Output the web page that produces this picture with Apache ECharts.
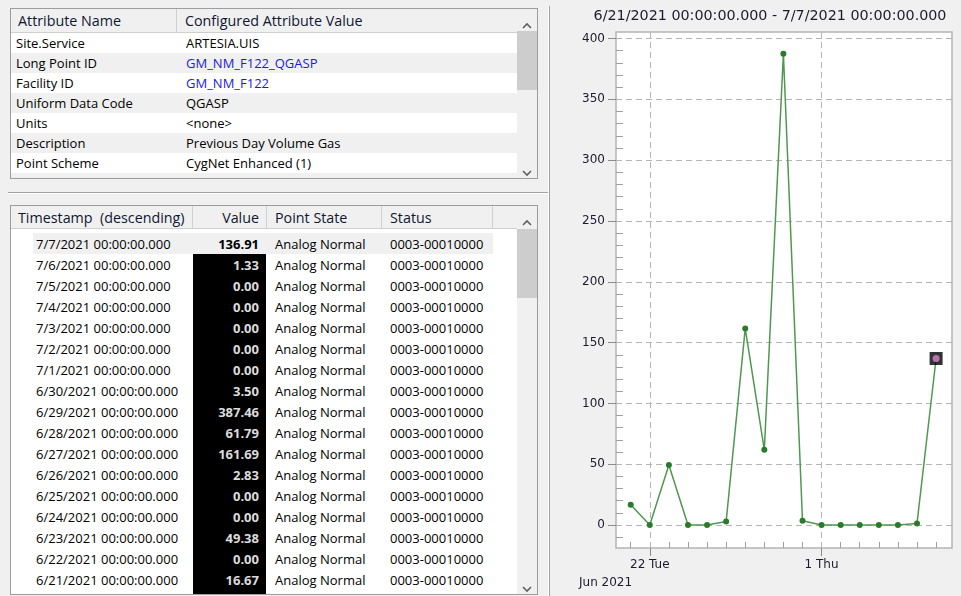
<!DOCTYPE html>
<html>
<head>
<meta charset="utf-8">
<script src="https://cdn.jsdelivr.net/npm/echarts/dist/echarts.min.js"></script>
<style>
html,body{margin:0;padding:0;width:961px;height:596px;overflow:hidden;background:#f0f0f0;
  font-family:"Open Sans","Noto Sans",sans-serif;font-size:13px;color:#000;}
.a{position:absolute;box-sizing:border-box;}
.t{position:absolute;white-space:pre;line-height:16px;}
.h{font-size:14.3px;color:#0f1733;}
.frame{border:1px solid #9d9d9d;background:#fff;}
.hdr{background:#f0f0f0;border-bottom:1px solid #cfcfcf;}
.div{background:#d0d0d0;width:1px;}
.sb{background:#f0f0f0;}
.thumb{background:#cdcdcd;}
#chart{position:absolute;left:550px;top:0;width:411px;height:596px;}
</style>
</head>
<body>
<div id="ui"></div>
<div id="chart"></div>
<script>
// ---------- data ----------
const attrNames = ['Site.Service','Long Point ID','Facility ID','Uniform Data Code','Units','Description','Point Scheme'];
const attrValues = ['ARTESIA.UIS','GM_NM_F122_QGASP','GM_NM_F122','QGASP','<none>','Previous Day Volume Gas','CygNet Enhanced (1)'];
const attrLinks = [false,true,true,false,false,false,false];

const dates = ['2021-06-21','2021-06-22','2021-06-23','2021-06-24','2021-06-25','2021-06-26','2021-06-27','2021-06-28','2021-06-29','2021-06-30','2021-07-01','2021-07-02','2021-07-03','2021-07-04','2021-07-05','2021-07-06','2021-07-07'];
const values = [16.67,0.00,49.38,0.00,0.00,2.83,161.69,61.79,387.46,3.50,0.00,0.00,0.00,0.00,0.00,1.33,136.91];
const pointState = 'Analog Normal';
const statusCode = '0003-00010000';
const tableHeaders = ['Timestamp  (descending)','Value','Point State','Status'];

const chartTitle = '6/21/2021 00:00:00.000 - 7/7/2021 00:00:00.000';
const xRange = ['2021-06-20T05:30','2021-07-07T20:00'];
const xTickDates = ['2021-06-22','2021-07-01'];
const xTickLabels = ['22 Tue','1 Thu'];
const xSubLabel = 'Jun 2021';
const yRange = [-18.9, 405.4];
const yTickValues = [0,50,100,150,200,250,300,350,400];
const yMinorTickValues = [-10,10,20,30,40,60,70,80,90,110,120,130,140,160,170,180,190,210,220,230,240,260,270,280,290,310,320,330,340,360,370,380,390];
const selectedIndex = dates.length - 1;

// ---------- helpers ----------
function toUTC(s){
  const [d,tm] = s.split('T');
  const [y,m,dd] = d.split('-').map(Number);
  let h=0,mi=0;
  if(tm){ [h,mi] = tm.split(':').map(Number); }
  return Date.UTC(y,m-1,dd,h,mi);
}
function fmtStamp(s){
  const [y,m,d] = s.split('-').map(Number);
  return m+'/'+d+'/'+y+' 00:00:00.000';
}
const ui = document.getElementById('ui');
function box(cls,l,t,w,h,extra){
  const e=document.createElement('div'); e.className='a '+(cls||'');
  e.style.left=l+'px'; e.style.top=t+'px'; e.style.width=w+'px'; e.style.height=h+'px';
  if(extra) Object.assign(e.style,extra);
  ui.appendChild(e); return e;
}
function text(str,l,cy,opts){
  opts=opts||{};
  const e=document.createElement('div'); e.className='t'+(opts.cls?' '+opts.cls:''); e.textContent=str;
  e.style.top=(cy-8)+'px';
  if(opts.right!==undefined){ e.style.right=(961-opts.right)+'px'; } else { e.style.left=l+'px'; }
  if(opts.color) e.style.color=opts.color;
  if(opts.bold) e.style.fontWeight='bold';
  ui.appendChild(e); return e;
}
function arrow(cx,cy,up){
  const e=document.createElement('div'); e.className='a';
  e.style.left=(cx-5)+'px'; e.style.top=(cy-4)+'px'; e.style.width='10px'; e.style.height='8px';
  e.innerHTML='<svg width="10" height="8"><polyline points="'+(up?'1,6 5,2 9,6':'1,2 5,6 9,2')+'" fill="none" stroke="#606060" stroke-width="1.6"/></svg>';
  ui.appendChild(e);
}

// ---------- top attribute table ----------
box('frame',10,8,528,171);
box('hdr',11,9,506,24);
box('div',176,9,1,24);
text('Attribute Name',18,21,{cls:'h'});
text('Configured Attribute Value',185,21,{cls:'h'});
for(let i=0;i<8;i++){
  const top=33+20*i;
  const h=Math.min(20,178-top);
  box('',11,top,506,h,{background: i%2? '#f0f0f0':'#ffffff'});
  if(i<attrNames.length){
    text(attrNames[i],16,top+10);
    text(attrValues[i],186,top+10,{color: attrLinks[i]?'#1a1ae6':'#000'});
  }
}
box('sb',517,9,20,169);
box('thumb',517,31,20,59);
arrow(527,20,true);
arrow(527,167,false);

// splitters
box('',8,192,541,1,{background:'#a0a0a0'});
box('',8,193,541,1,{background:'#ffffff'});
box('',549,6,1,590,{background:'#a0a0a0'});
box('',548,6,1,590,{background:'#ffffff'});

// ---------- bottom history table ----------
box('frame',10,205,528,390);
box('hdr',11,206,506,23);
[192,266,381,492].forEach(x=>box('div',x,206,1,23));
text(tableHeaders[0],18,218,{cls:'h'});
text(tableHeaders[1],0,218,{right:259,cls:'h'});
text(tableHeaders[2],275,218,{cls:'h'});
text(tableHeaders[3],390,218,{cls:'h'});
const rowH=21, row0=233;
box('',193,row0+rowH,73,594-(row0+rowH),{background:'#000'});
box('',33,row0,460,rowH,{background:'#f0f0f0'});
const n=dates.length;
for(let k=0;k<n;k++){
  const i=n-1-k;
  const cy=row0+rowH*k+10.5;
  text(fmtStamp(dates[i]),36,cy);
  text(values[i].toFixed(2),0,cy,{right:259,bold:true,color: k===0?'#000':'#dcdcdc'});
  text(pointState,275,cy);
  text(statusCode,390,cy);
}
box('sb',517,206,20,388);
box('thumb',517,229,20,69);
arrow(527,217,true);
arrow(527,583,false);

// ---------- chart ----------
const chart = echarts.init(document.getElementById('chart'), null, {renderer:'canvas'});
const xMajor = xTickDates.map(toUTC);
const xMinor = dates.map(toUTC).filter(v=>xMajor.indexOf(v)<0);
const seriesData = dates.map((d,i)=>[toUTC(d), values[i]]);
const sel = [[toUTC(dates[selectedIndex]), values[selectedIndex]]];
const FONT = 'DejaVu Sans';
const option = {
  animation:false,
  backgroundColor:'transparent',
  textStyle:{fontFamily:FONT},
  grid:{left:66, top:32, width:336, height:516, show:true, backgroundColor:'#ffffff', borderColor:'#b4b4b4', borderWidth:1.5},
  graphic:[
    {type:'text', x:220, y:16, style:{text:chartTitle, font:'14.3px "DejaVu Sans"', fill:'#1b1b2e', textAlign:'center', textVerticalAlign:'middle'}},
    {type:'text', x:29, y:583, style:{text:xSubLabel, font:'12px "DejaVu Sans"', fill:'#1b1b2e', textAlign:'left', textVerticalAlign:'middle'}}
  ],
  xAxis:[{
    type:'value', position:'bottom', min:toUTC(xRange[0]), max:toUTC(xRange[1]),
    axisLine:{show:false, onZero:false},
    axisTick:{show:true, customValues:xMajor, length:8, lineStyle:{color:'#8c8c8c'}},
    axisLabel:{show:true, customValues:xMajor, margin:11, color:'#1b1b2e', fontSize:12, fontFamily:FONT,
      formatter:(v)=>xTickLabels[xMajor.indexOf(v)]},
    splitLine:{show:true, lineStyle:{type:[6,4], color:'#b4b4b4', width:1}}
  },{
    type:'value', position:'bottom', min:toUTC(xRange[0]), max:toUTC(xRange[1]),
    axisLine:{show:false, onZero:false},
    axisTick:{show:true, inside:true, customValues:xMinor, length:6, lineStyle:{color:'#a0a0a0'}},
    axisLabel:{show:false}, splitLine:{show:false}
  }],
  yAxis:[{
    type:'value', position:'left', min:yRange[0], max:yRange[1],
    axisLine:{show:false, onZero:false},
    axisTick:{show:true, customValues:yTickValues, length:8, lineStyle:{color:'#8c8c8c'}},
    axisLabel:{show:true, customValues:yTickValues, margin:11, color:'#1b1b2e', fontSize:12, fontFamily:FONT},
    splitLine:{show:true, lineStyle:{type:[6,4], color:'#b4b4b4', width:1}}
  },{
    type:'value', position:'left', min:yRange[0], max:yRange[1],
    axisLine:{show:false, onZero:false},
    axisTick:{show:true, inside:true, customValues:yMinorTickValues, length:7, lineStyle:{color:'#a0a0a0'}},
    axisLabel:{show:false}, splitLine:{show:false}
  }],
  series:[{
    type:'line', xAxisIndex:0, yAxisIndex:0, data:seriesData,
    symbol:'circle', symbolSize:6, showAllSymbol:true,
    lineStyle:{color:'#4f984f', width:1.5},
    itemStyle:{color:'#2b7a2b'}
  },{
    type:'scatter', xAxisIndex:0, yAxisIndex:0, data:sel, symbol:'rect', symbolSize:13,
    itemStyle:{color:'#000'}, z:5
  },{
    type:'scatter', xAxisIndex:0, yAxisIndex:0, data:sel, symbol:'circle', symbolSize:7,
    itemStyle:{color:'#e38ae3'}, z:6
  }]
};
chart.setOption(option);
</script>
</body>
</html>
